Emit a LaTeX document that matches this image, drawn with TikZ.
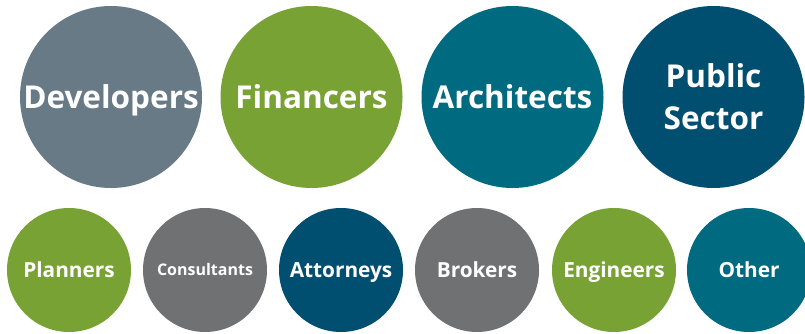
\documentclass[tikz,border=0pt]{standalone}
\usepackage{fontspec}
\setmainfont{Open Sans}
\definecolor{slate}{HTML}{677A86}
\definecolor{leaf}{HTML}{78A233}
\definecolor{teal}{HTML}{006A80}
\definecolor{navy}{HTML}{004E70}
\definecolor{stone}{HTML}{6F7173}
\begin{document}
\begin{tikzpicture}[x=1pt,y=-1pt,
    bigdisc/.style={circle, minimum size=182pt, inner sep=0pt, text=white,
      align=center, text height=22.5pt, text depth=0pt,
      font=\fontsize{31.5}{42}\selectfont\bfseries},
    smalldisc/.style={circle, minimum size=124pt, inner sep=0pt, text=white,
      text height=14.9pt, text depth=0pt,
      font=\fontsize{20.8}{24}\selectfont\bfseries}]
        \useasboundingbox (0,0) rectangle (805,334);

        % top row
        \node[bigdisc, fill=slate] (developers) at (111,97) {Developers};
        \node[bigdisc, fill=leaf] (financers) at (311.5,97) {Financers};
        \node[bigdisc, fill=teal] (architects) at (512.5,97) {Architects};
        \node[bigdisc, fill=navy, text height=64.5pt] (public) at (713.5,97)
             {Public\\Sector};

        % bottom row
        \node[smalldisc, fill=leaf] (planners) at (69,270) {Planners};
        \node[smalldisc, fill=stone, text height=11.4pt,
             font=\fontsize{16}{19}\selectfont\bfseries]
             (consultants) at (205,270) {Consultants};
        \node[smalldisc, fill=navy] (attorneys) at (341,270) {Attorneys};
        \node[smalldisc, fill=stone] (brokers) at (477,270) {Brokers};
        \node[smalldisc, fill=leaf] (engineers) at (614,270) {Engineers};
        \node[smalldisc, fill=teal] (other) at (749,270) {Other};
      \end{tikzpicture}
\end{document}
